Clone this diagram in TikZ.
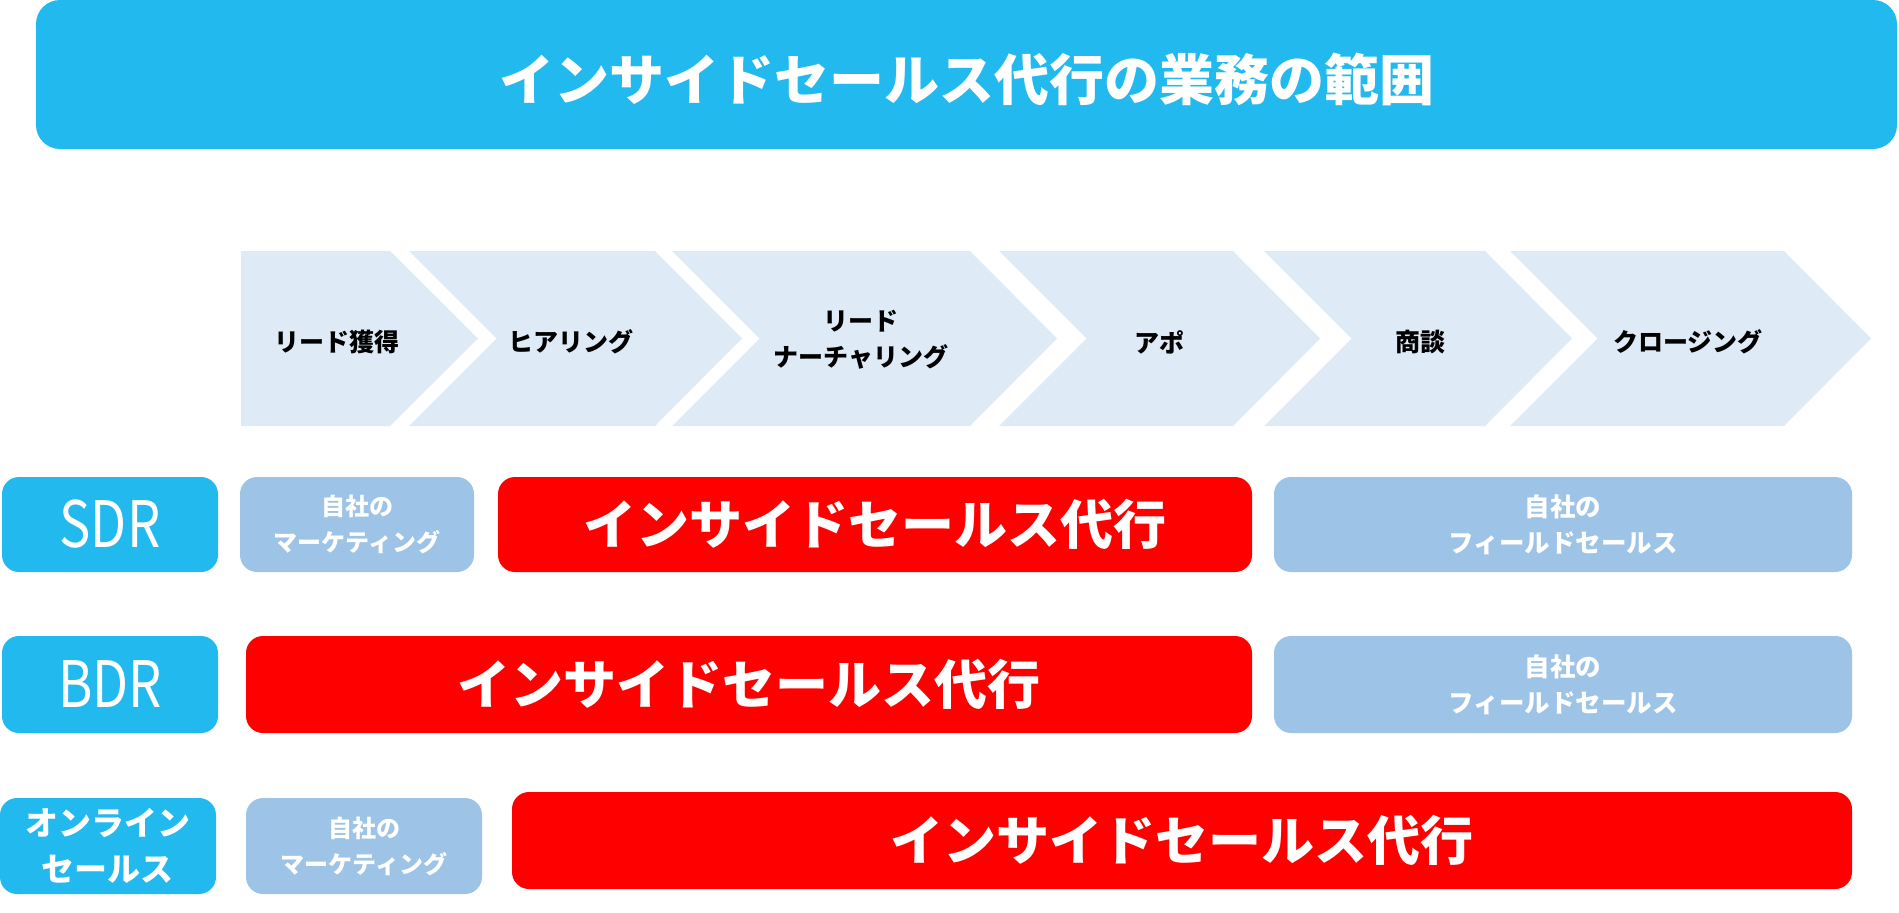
\documentclass[tikz,border=0pt]{standalone}
\usepackage{fontspec}
\newfontfamily\jp{Noto Sans CJK JP}
\definecolor{titleblue}{HTML}{21B9EE}
\definecolor{chevfill}{HTML}{DEEBF7}
\definecolor{lightbox}{HTML}{9DC3E6}
\definecolor{redbox}{HTML}{FF0000}
\tikzset{
  box/.style={rectangle, rounded corners=17pt, inner sep=0pt, draw=none, align=center, text=white},
  bluebox/.style={box, fill=titleblue},
  mktbox/.style={box, fill=lightbox},
  redrow/.style={box, fill=redbox, font=\jp\bfseries\fontsize{53}{60}\selectfont},
  chev/.style={fill=chevfill, draw=none},
  chevtext/.style={align=center, text=black, inner sep=0pt, font=\jp\bfseries\fontsize{25}{36}\selectfont},
}
\begin{document}
\begin{tikzpicture}[x=1pt,y=-1pt]
\useasboundingbox (0,0) rectangle (1899,913);
% title
\node[bluebox, rounded corners=24pt, minimum width=1861pt, minimum height=149pt] (title) at (966.5,74.5) {};
\node[text=white, inner sep=0pt, font=\jp\bfseries\fontsize{55}{60}\selectfont] (titletext) at (966.5,79) {インサイドセールス代行の業務の範囲};
% chevrons
\path[chev] (241,251) -- (390,251) -- (478,338.5) -- (390,426) -- (241,426) -- cycle;
\path[chev] (409,251) -- (655,251) -- (742,338.5) -- (655,426) -- (409,426) -- (496.5,338.5) -- cycle;
\path[chev] (672,251) -- (970,251) -- (1057,338.5) -- (970,426) -- (672,426) -- (759.5,338.5) -- cycle;
\path[chev] (999,251) -- (1233,251) -- (1320,338.5) -- (1233,426) -- (999,426) -- (1086.5,338.5) -- cycle;
\path[chev] (1264,251) -- (1485,251) -- (1572,338.5) -- (1485,426) -- (1264,426) -- (1351.5,338.5) -- cycle;
\path[chev] (1510,251) -- (1784,251) -- (1871,338.5) -- (1784,426) -- (1510,426) -- (1597.5,338.5) -- cycle;
\node[chevtext] (c1) at (337,342) {リード獲得};
\node[chevtext] (c2) at (571,342) {ヒアリング};
\node[chevtext] (c3) at (861,340) {リード\\ナーチャリング};
\node[chevtext] (c4) at (1159,342) {アポ};
\node[chevtext] (c5) at (1420,342) {商談};
\node[chevtext] (c6) at (1688,342) {クロージング};
% row 1
\node[bluebox, minimum width=216pt, minimum height=95pt, font=\jp\fontsize{64}{70}\selectfont] (sdr) at (110,524.5) {\scalebox{0.82}[1]{SDR}};
\node[mktbox, minimum width=234pt, minimum height=95pt, font=\jp\bfseries\fontsize{24}{36}\selectfont] (mkt1) at (357,524.5) {自社の\\マーケティング};
\node[redrow, minimum width=754pt, minimum height=95pt] (red1) at (875,524.5) {インサイドセールス代行};
\node[mktbox, minimum width=578pt, minimum height=95pt, font=\jp\bfseries\fontsize{25.5}{36}\selectfont] (field1) at (1563,524.5) {自社の\\フィールドセールス};
% row 2
\node[bluebox, minimum width=216pt, minimum height=97pt, font=\jp\fontsize{64}{70}\selectfont] (bdr) at (110,684.5) {\scalebox{0.82}[1]{BDR}};
\node[redrow, minimum width=1006pt, minimum height=97pt] (red2) at (749,684.5) {インサイドセールス代行};
\node[mktbox, minimum width=578pt, minimum height=97pt, font=\jp\bfseries\fontsize{25.5}{36}\selectfont] (field2) at (1563,684.5) {自社の\\フィールドセールス};
% row 3
\node[bluebox, minimum width=216pt, minimum height=96pt, font=\jp\bfseries\fontsize{33}{46}\selectfont] (online) at (108,846) {オンライン\\セールス};
\node[mktbox, minimum width=236pt, minimum height=96pt, font=\jp\bfseries\fontsize{24}{36}\selectfont] (mkt3) at (364,846) {自社の\\マーケティング};
\node[redrow, minimum width=1340pt, minimum height=97pt] (red3) at (1182,840.5) {インサイドセールス代行};
\end{tikzpicture}
\end{document}
